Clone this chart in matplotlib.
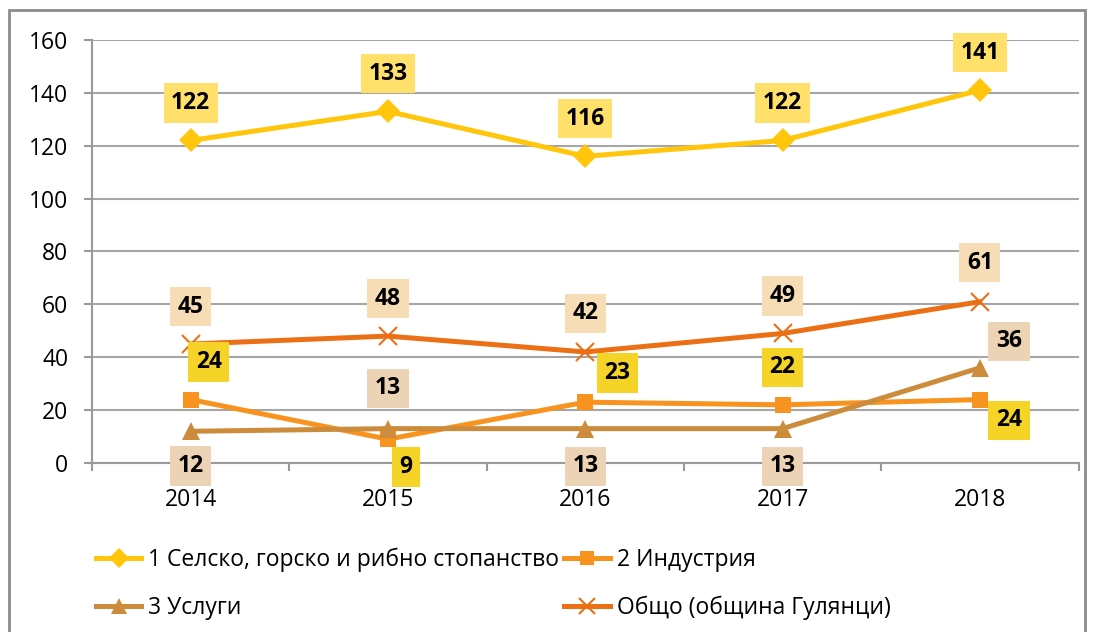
import matplotlib
matplotlib.use("Agg")
import matplotlib.pyplot as plt
from matplotlib.patches import Rectangle

plt.rcParams['font.family'] = ['Open Sans', 'DejaVu Sans']

years = ['2014', '2015', '2016', '2017', '2018']
agri = [122, 133, 116, 122, 141]
industry = [24, 9, 23, 22, 24]
services = [12, 13, 13, 13, 36]
total = [45, 48, 42, 49, 61]

names = ['1 Селско, горско и рибно стопанство', '2 Индустрия',
         '3 Услуги', 'Общо (община Гулянци)']

# label offsets in points (dx, dy) per point, like Excel placed them
agri_off = [(0, 27)] * 5
ind_off = [(13, 27), (13, -20), (23, 21), (0, 27), (21, -15)]
serv_off = [(0, -25), (0, 29), (0, -27), (0, -27), (21, 19)]
tot_off = [(0, 27), (0, 27), (0, 28), (0, 27), (0, 28)]

fig = plt.figure(figsize=(10.93, 6.32), dpi=100)
ax = fig.add_axes([92 / 1093, 1 - 463 / 632, 986.5 / 1093, 423 / 632])

x = list(range(len(years)))
series = [
    (agri, '#FFC60B', 'D', 12, '#FFE06B', agri_off),
    (industry, '#F7931E', 's', 12, '#F5D327', ind_off),
    (services, '#CD8B3C', '^', 13, '#EDD3B5', serv_off),
    (total, '#EB6F14', 'x', 13, '#F7DDB6', tot_off),
]
handles = []
for (vals, col, mk, ms, bg, offs), name in zip(series, names):
    h, = ax.plot(x, vals, color=col, lw=3.6, marker=mk, ms=ms,
                 mew=1.5 if mk == 'x' else 0, mec=col, label=name, zorder=3)
    handles.append(h)
for (vals, col, mk, ms, bg, offs) in series:
    for xi, v, (dx, dy) in zip(x, vals, offs):
        ax.annotate(str(v), (xi, v), xytext=(dx, dy), textcoords='offset points',
                    ha='center', va='center', fontsize=16.5, fontweight='bold',
                    bbox=dict(boxstyle='square,pad=0.33', fc=bg, ec='none'),
                    zorder=5, annotation_clip=False)

ax.set_xlim(-0.5, 4.5)
ax.set_ylim(0, 160)
ax.set_yticks(range(0, 161, 20))
ax.set_xticks(x)
ax.set_xticklabels(years)
ax.set_xticks([i - 0.5 for i in range(6)], minor=True)
ax.tick_params(axis='x', which='major', length=0, pad=18, labelsize=16.5)
ax.tick_params(axis='x', which='minor', length=6, width=1.5, color='#999999')
ax.tick_params(axis='y', length=6, width=1.5, color='#999999', pad=11, labelsize=16.5)
ax.grid(axis='y', color='#A6A6A6', lw=1.5, zorder=0)
for s in ['top', 'right']:
    ax.spines[s].set_visible(False)
for s in ['left', 'bottom']:
    ax.spines[s].set_color('#999999')
    ax.spines[s].set_linewidth(1.5)

order = [handles[0], handles[2], handles[1], handles[3]]
fig.legend(order, [h.get_label() for h in order], ncol=2, loc='upper left',
           bbox_to_anchor=(75 / 1093, 1 - 527 / 632), frameon=False,
           fontsize=16.5, handlelength=2.0, handletextpad=0.3,
           columnspacing=0.2, labelspacing=1.05, markerscale=0.85)

fig.add_artist(Rectangle((9 / 1093, -0.02), 1076 / 1093, 1 - 10 / 632 + 0.02,
                         transform=fig.transFigure, fill=False,
                         ec='#8C8C8C', lw=2, clip_on=False))

fig.savefig('out.png', dpi=100)
